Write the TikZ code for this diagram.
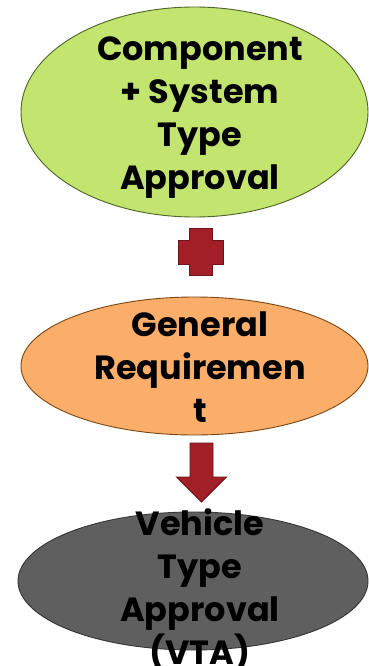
\documentclass[tikz,border=0pt]{standalone}
\usepackage{fontspec}
\setmainfont{Poppins}
\usetikzlibrary{shapes.geometric}
\definecolor{gfill}{HTML}{C3E46F}
\definecolor{gline}{HTML}{4F6228}
\definecolor{ofill}{HTML}{FAAE6A}
\definecolor{oline}{HTML}{7A4512}
\definecolor{kfill}{HTML}{5F5F5F}
\definecolor{kline}{HTML}{353535}
\definecolor{rfill}{HTML}{A31F27}
\definecolor{rline}{HTML}{6C1418}
\tikzset{
  x=1pt,y=1pt,
  oval/.style={ellipse, line width=0.9pt, inner sep=0pt, minimum width=#1},
  lbl/.style={align=center, font=\bfseries\fontsize{33.5}{43}\selectfont, text=black},
  redshape/.style={fill=rfill, draw=rline, line width=0.9pt}
}
\begin{document}
\begin{tikzpicture}
\useasboundingbox (0,0) rectangle (369,-666);
% ellipses
\node[oval=347pt, minimum height=210pt, fill=gfill, draw=gline] (e1) at (194.5,-112) {};
\node[oval=347pt, minimum height=138pt, fill=ofill, draw=oline] (e2) at (194.5,-366) {};
\node[oval=350pt, minimum height=138pt, fill=kfill, draw=kline] (e3) at (193,-581) {};
% plus sign
\node[inner sep=0pt, minimum size=0pt] (plus) at (200.5,-251.5) {};
\draw[redshape] ([shift={(-11.5,23.5)}]plus.center) -- ++(23,0) -- ++(0,-12) -- ++(11,0) -- ++(0,-24) -- ++(-11,0) -- ++(0,-11) -- ++(-23,0) -- ++(0,11) -- ++(-11,0) -- ++(0,24) -- ++(11,0) -- cycle;
% down arrow
\coordinate (atop) at (201.5,-443);
\coordinate (atip) at (201.5,-502);
\draw[redshape] ([xshift=-11.5]atop) -- ([xshift=11.5]atop) -- ([shift={(11.5,-34)}]atop) -- ([shift={(25,-34)}]atop) -- (atip) -- ([shift={(-25,-34)}]atop) -- ([shift={(-11.5,-34)}]atop) -- cycle;
% labels
\node[lbl] (t1) at (200,-118) {Component\\+ System\\Type\\Approval};
\node[lbl] (t2) at (200,-367) {General\\Requiremen\\t};
\node[lbl] (t3) at (200,-590) {Vehicle\\Type\\Approval\\(VTA)};
\end{tikzpicture}
\end{document}
